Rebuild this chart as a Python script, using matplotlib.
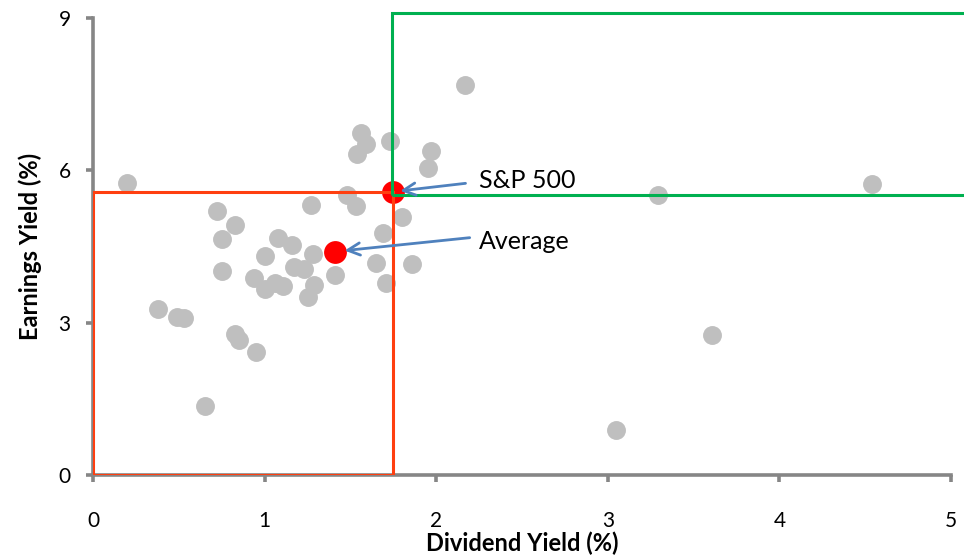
import matplotlib.pyplot as plt
from matplotlib.patches import Rectangle

# Dividend yield (%) and earnings yield (%) for each stock.
div_yield = [0.20, 0.72, 0.83, 0.75, 0.75, 0.38, 0.49, 0.53, 1.00, 1.08,
             1.16, 1.17, 0.94, 1.00, 1.06, 1.11, 0.83, 0.85, 0.95, 0.65,
             1.27, 1.48, 1.53, 1.28, 1.23, 1.29, 1.25, 1.41, 1.69, 1.65,
             1.71, 1.56, 1.59, 1.54, 1.73, 1.97, 1.95, 1.80, 1.86, 2.17,
             3.29, 4.54, 3.61, 3.05]
earn_yield = [5.75, 5.20, 4.93, 4.64, 4.02, 3.27, 3.12, 3.10, 4.31, 4.66,
              4.53, 4.10, 3.87, 3.67, 3.79, 3.72, 2.78, 2.66, 2.43, 1.36,
              5.31, 5.51, 5.30, 4.36, 4.05, 3.75, 3.51, 3.94, 4.77, 4.18,
              3.79, 6.74, 6.52, 6.32, 6.57, 6.38, 6.04, 5.09, 4.15, 7.68,
              5.51, 5.74, 2.75, 0.89]

sp500 = (1.75, 5.58)
average = (1.41, 4.40)

# Quadrant boxes: below the index, and above the index.
low_box = (0, 0, sp500[0], sp500[1])
high_box = (1.74, 5.51, 5.10, 9.10)

plt.rcParams['font.family'] = ['Lato', 'DejaVu Sans']
axis_grey = '#868686'

fig = plt.figure(figsize=(9.64, 5.58), dpi=100)
ax = fig.add_axes([93 / 964, 83 / 558, 858 / 964, 457 / 558])

ax.scatter(div_yield, earn_yield, s=185, color='#BFBFBF', linewidths=0,
           zorder=2)
ax.scatter([sp500[0], average[0]], [sp500[1], average[1]], s=270,
           color='#FF0000', linewidths=0, zorder=3)

ax.add_patch(Rectangle(low_box[:2], low_box[2] - low_box[0],
                       low_box[3] - low_box[1], fill=False,
                       edgecolor='#FF3F10', lw=2.2, zorder=4))
ax.add_patch(Rectangle(high_box[:2], high_box[2] - high_box[0],
                       high_box[3] - high_box[1], fill=False,
                       edgecolor='#00B050', lw=2.2, zorder=4, clip_on=False))

# Callout arrows and labels.
arrow = dict(arrowstyle='->', color='#4F81BD', lw=2, shrinkA=0,
             mutation_scale=22)
ax.annotate('', xy=sp500, xytext=(52, 6), textcoords='offset points',
            arrowprops=dict(arrow, shrinkB=5), zorder=5)
ax.annotate('S&P 500', xy=sp500, xytext=(62, 8), textcoords='offset points',
            fontsize=18, va='center', ha='left')
ax.annotate('', xy=average, xytext=(97, 10), textcoords='offset points',
            arrowprops=dict(arrow, shrinkB=7), zorder=5)
ax.annotate('Average', xy=average, xytext=(104, 7),
            textcoords='offset points', fontsize=18, va='center', ha='left')

ax.set_xlim(0, 5)
ax.set_ylim(0, 9)
ax.set_xticks([0, 1, 2, 3, 4, 5])
ax.set_yticks([0, 3, 6, 9])

for side in ['top', 'right']:
    ax.spines[side].set_visible(False)
for side in ['left', 'bottom']:
    ax.spines[side].set_color(axis_grey)
    ax.spines[side].set_linewidth(2.6)
    ax.spines[side].set_zorder(1)

ax.tick_params(axis='both', colors=axis_grey, width=2.6, length=5,
               labelcolor='black', labelsize=15)
ax.tick_params(axis='x', pad=21)
ax.tick_params(axis='y', pad=11)

ax.set_xlabel('Dividend Yield (%)', fontsize=17, fontweight='bold',
              labelpad=0)
ax.set_ylabel('Earnings Yield (%)', fontsize=17, fontweight='bold',
              labelpad=12)

plt.savefig('out.png', dpi=100)
